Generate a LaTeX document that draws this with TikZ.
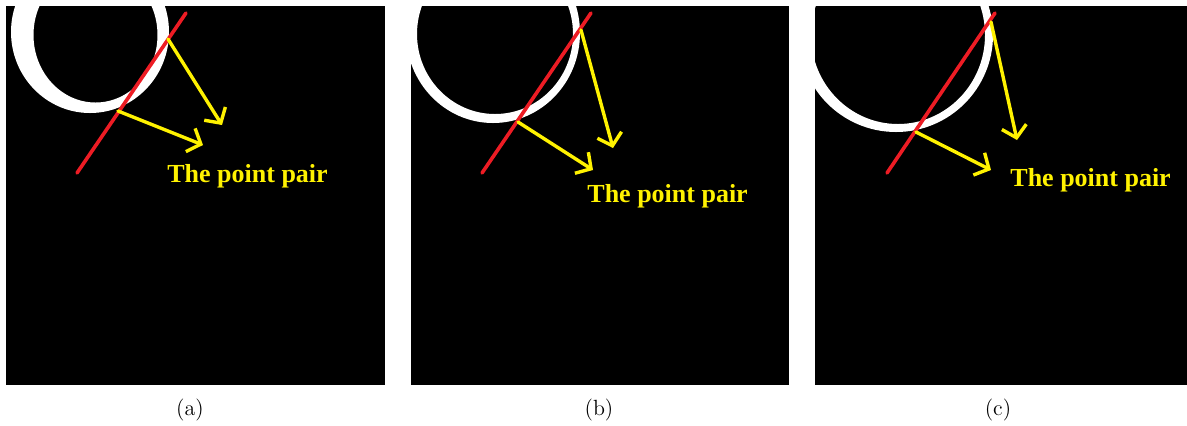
\documentclass[tikz,border=0pt]{standalone}
\usepackage{fontspec}
\usepackage{tikz}
\usetikzlibrary{arrows.meta,positioning,calc}
\newfontfamily\pairfont{Liberation Serif}
\definecolor{cutred}{RGB}{237,28,36}
\definecolor{pairyellow}{RGB}{255,242,0}
\tikzset{
  panelbg/.style={fill=black},
  ringfill/.style={fill=white,even odd rule},
  cutline/.style={draw=cutred,line width=1.8pt,line cap=round},
  pairarrow/.style={
    -{Straight Barb[length=5.6pt,width=12.5pt,line width=1.7pt]},
    draw=pairyellow,line width=1.7pt,line cap=round
  },
  pairlabel/.style={
    text=pairyellow,
    anchor=base west,
    inner sep=0pt,
    font=\pairfont\fontsize{13}{15}\selectfont\bfseries
  },
  subcaption/.style={font=\fontsize{11}{13}\selectfont,inner sep=0pt}
}

\begin{document}
\begin{tikzpicture}[x=0.5pt,y=-0.5pt]
  \useasboundingbox (0,0) rectangle (1187,425);
  % (a)
  \begin{scope}
    \clip (6,6) rectangle (385,385);
    \fill[panelbg] (6,6) rectangle (385,385);
    \fill[ringfill] (90,32) ellipse [x radius=79,y radius=81]
      (95.5,35) ellipse [x radius=62,y radius=67.5];
  \end{scope}
  \coordinate (a-lo) at (77,173);
  \coordinate (a-hi) at (186,13);
  \coordinate (a-p1) at (168,39);
  \coordinate (a-t1) at (222,125);
  \coordinate (a-p2) at (118,111);
  \coordinate (a-t2) at (203,145);
  \draw[cutline] (a-lo) -- (a-hi);
  \draw[pairarrow] (a-p1) -- (a-t1);
  \draw[pairarrow] (a-p2) -- (a-t2);
  \node[pairlabel] (a-label) at (167,182) {The point pair};
  \node[subcaption] (a-cap) at (190,410) {(a)};
  % (b)
  \begin{scope}
    \clip (411,6) rectangle (789,385);
    \fill[panelbg] (411,6) rectangle (789,385);
    \fill[ringfill] (493,33) ellipse [x radius=87,y radius=90]
      (495,34) ellipse [x radius=78,y radius=80];
  \end{scope}
  \coordinate (b-lo) at (482,173);
  \coordinate (b-hi) at (591,13);
  \coordinate (b-p1) at (581,30);
  \coordinate (b-t1) at (613,148);
  \coordinate (b-p2) at (518,122);
  \coordinate (b-t2) at (593,170);
  \draw[cutline] (b-lo) -- (b-hi);
  \draw[pairarrow] (b-p1) -- (b-t1);
  \draw[pairarrow] (b-p2) -- (b-t2);
  \node[pairlabel] (b-label) at (587,202) {The point pair};
  \node[subcaption] (b-cap) at (599,410) {(b)};
  % (c)
  \begin{scope}
    \clip (815,6) rectangle (1187,385);
    \fill[panelbg] (815,6) rectangle (1187,385);
    \fill[ringfill] (896,35) ellipse [x radius=97,y radius=97]
      (898,35) ellipse [x radius=87,y radius=89];
  \end{scope}
  \coordinate (c-lo) at (887,173);
  \coordinate (c-hi) at (995,13);
  \coordinate (c-p1) at (991,22);
  \coordinate (c-t1) at (1017,140);
  \coordinate (c-p2) at (916,132);
  \coordinate (c-t2) at (991,170);
  \draw[cutline] (c-lo) -- (c-hi);
  \draw[pairarrow] (c-p1) -- (c-t1);
  \draw[pairarrow] (c-p2) -- (c-t2);
  \node[pairlabel] (c-label) at (1010,186) {The point pair};
  \node[subcaption] (c-cap) at (998,410) {(c)};
\end{tikzpicture}
\end{document}
